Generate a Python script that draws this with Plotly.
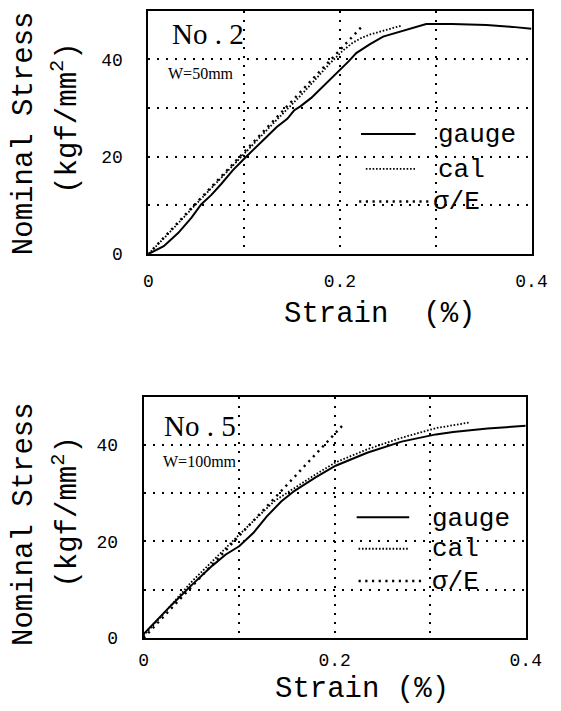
import plotly.graph_objects as go

# ---- No.2 specimen (W = 50 mm) ----
strain_gauge_2 = [0, 0.006, 0.016, 0.031, 0.045, 0.055, 0.066, 0.076, 0.088, 0.101, 0.112,
                  0.123, 0.134, 0.145, 0.152, 0.159, 0.17, 0.18, 0.19, 0.2, 0.209, 0.217,
                  0.224, 0.231, 0.245, 0.263, 0.28, 0.29, 0.317, 0.353, 0.38, 0.4]
stress_gauge_2 = [0, 0.6, 1.6, 4.3, 7.5, 10.2, 12.2, 14.4, 17.2, 19.8, 21.8,
                  24.0, 26.1, 27.8, 29.5, 30.4, 32.1, 34.0, 35.8, 37.7, 39.6, 41.3,
                  42.2, 43.1, 44.7, 45.8, 46.7, 47.3, 47.3, 47.1, 46.7, 46.3]
strain_cal_2 = [0, 0.02, 0.05, 0.08, 0.1, 0.13, 0.16, 0.19, 0.203, 0.213, 0.222, 0.231,
                0.245, 0.255, 0.265]
stress_cal_2 = [0, 4.0, 10.3, 16.5, 20.6, 26.8, 32.8, 39.3, 41.8, 43.4, 44.4, 45.1,
                45.9, 46.4, 47.0]
strain_se_2 = [0, 0.224]
stress_se_2 = [0, 47.0]

# ---- No.5 specimen (W = 100 mm) ----
strain_gauge_5 = [0, 0.011, 0.029, 0.05, 0.072, 0.086, 0.1, 0.115, 0.129, 0.144, 0.158,
                  0.18, 0.201, 0.234, 0.27, 0.306, 0.324, 0.36, 0.4]
stress_gauge_5 = [0.8, 3.1, 6.8, 10.9, 15.0, 17.3, 19.0, 21.8, 25.2, 28.3, 30.5,
                  33.3, 35.7, 38.4, 40.7, 42.2, 42.7, 43.4, 44.0]
strain_cal_5 = [0, 0.02, 0.05, 0.075, 0.1, 0.12, 0.137, 0.162, 0.18, 0.201, 0.234, 0.27,
                0.306, 0.342]
stress_cal_5 = [0.5, 4.8, 11.6, 16.6, 21.4, 25.2, 28.4, 31.6, 33.9, 36.4, 39.1, 41.5,
                43.5, 44.7]
strain_se_5 = [0, 0.208]
stress_se_5 = [0, 44.0]

x_tickvals = [0, 0.2, 0.4]
x_ticktext = ["0", "0.2", "0.4"]
x_gridvals = [0.1, 0.2, 0.3]
y_tickvals = [0, 20, 40]
y_ticktext = ["0", "20", "40"]
y_gridvals = [10, 20, 30, 40]

MONO = "Liberation Mono"
SERIF = "Liberation Serif"
W, H = 561, 711

SOLID = dict(color="black", width=2)
CAL = dict(color="black", width=1.8, dash="1.6px,1.8px")
SIGE = dict(color="black", width=2.4, dash="2.2px,4.5px")
GRID = dict(showgrid=True, gridcolor="black", griddash="2px,7px", gridwidth=1.5, ticks="")


def px(x):
    return x / W


def py(y):
    return 1 - y / H


fig = go.Figure()

panels = [
    ("x", "y", strain_gauge_2, stress_gauge_2, strain_cal_2, stress_cal_2, strain_se_2, stress_se_2),
    ("x2", "y2", strain_gauge_5, stress_gauge_5, strain_cal_5, stress_cal_5, strain_se_5, stress_se_5),
]
for xa, ya, sg, fg, sc, fc, ss, fs in panels:
    fig.add_trace(go.Scatter(x=ss, y=fs, mode="lines", line=SIGE, xaxis=xa, yaxis=ya,
                             showlegend=False, hoverinfo="skip"))
    fig.add_trace(go.Scatter(x=sc, y=fc, mode="lines", line=CAL, xaxis=xa, yaxis=ya,
                             showlegend=False, hoverinfo="skip"))
    fig.add_trace(go.Scatter(x=sg, y=fg, mode="lines", line=SOLID, xaxis=xa, yaxis=ya,
                             showlegend=False, hoverinfo="skip"))


def xaxis(domain, anchor, standoff):
    return dict(domain=domain, anchor=anchor, range=[0, 0.4], showline=True, mirror=True,
                linecolor="black", linewidth=2, showgrid=False, zeroline=False, ticks="",
                tickvals=x_tickvals, ticktext=x_ticktext, ticklabelstandoff=standoff,
                minor=dict(tickvals=x_gridvals, **GRID),
                tickfont=dict(family=MONO, size=18, color="black"))


def yaxis(domain, anchor):
    return dict(domain=domain, anchor=anchor, range=[0, 50], showline=True, mirror=True,
                linecolor="black", linewidth=2, showgrid=False, zeroline=False, ticks="",
                tickvals=y_tickvals, ticktext=y_ticktext, ticklabelstandoff=20,
                minor=dict(tickvals=y_gridvals, **GRID),
                tickfont=dict(family=MONO, size=18, color="black"))


fig.update_layout(
    width=W, height=H, margin=dict(l=0, r=0, t=0, b=0),
    paper_bgcolor="white", plot_bgcolor="white", showlegend=False,
    xaxis=xaxis([px(149), px(547)], "y", 9),
    yaxis=yaxis([py(258), py(11)], "x"),
    xaxis2=xaxis([px(144), px(541)], "y2", 4),
    yaxis2=yaxis([py(648), py(403)], "x2"),
)

annotations = []
shapes = []

# in-plot labels and hand-drawn legend for each panel
panel_text = [
    ("x", "y", "No . 2", "W=50mm", 0.023, 45.3, 0.018, 37.1,
     [(0.222, 0.279, 24.7, "gauge", 0.3, 24.4),
      (0.227, 0.279, 17.5, "cal", 0.3, 17.3),
      (0.22, 0.296, 10.8, "σ/E", 0.295, 10.6)]),
    ("x2", "y2", "No . 5", "W=100mm", 0.019, 44.0, 0.018, 36.5,
     [(0.223, 0.278, 25.0, "gauge", 0.3, 24.6),
      (0.225, 0.278, 18.5, "cal", 0.3, 18.5),
      (0.225, 0.295, 11.8, "σ/E", 0.3, 11.6)]),
]
styles = [SOLID, CAL, SIGE]
for xa, ya, title, width_txt, tx, ty, wx, wy, legend in panel_text:
    annotations.append(dict(x=tx, y=ty, xref=xa, yref=ya, text=title, showarrow=False,
                            xanchor="left", yanchor="middle",
                            font=dict(family=SERIF, size=29, color="black")))
    annotations.append(dict(x=wx, y=wy, xref=xa, yref=ya, text=width_txt, showarrow=False,
                            xanchor="left", yanchor="middle",
                            font=dict(family=SERIF, size=16, color="black")))
    for (x0, x1, ly, label, lx, lty), st in zip(legend, styles):
        shapes.append(dict(type="line", xref=xa, yref=ya, x0=x0, x1=x1, y0=ly, y1=ly,
                           line=st))
        annotations.append(dict(x=lx, y=lty, xref=xa, yref=ya, text=label, showarrow=False,
                                xanchor="left", yanchor="middle",
                                font=dict(family=MONO, size=26, color="black")))

# axis titles
for ycen_ns, ycen_kgf, ytitle, xtitle, xcen in [
    (135, 120, 319, "Strain  (%)", 389),
    (532, 520, 700, "Strain (%)", 371),
]:
    annotations.append(dict(x=px(21), y=py(ycen_ns), xref="paper", yref="paper",
                            text="Nominal Stress", textangle=-90, showarrow=False,
                            xanchor="center", yanchor="middle",
                            font=dict(family=MONO, size=29, color="black")))
    annotations.append(dict(x=px(63), y=py(ycen_kgf), xref="paper", yref="paper",
                            text="(kgf/mm<sup>2</sup>)", textangle=-90, showarrow=False,
                            xanchor="center", yanchor="middle",
                            font=dict(family=MONO, size=29, color="black")))
    annotations.append(dict(x=px(xcen), y=py(ytitle), xref="paper", yref="paper",
                            text=xtitle, showarrow=False, xanchor="center", yanchor="middle",
                            font=dict(family=MONO, size=29, color="black")))

fig.update_layout(annotations=annotations, shapes=shapes)

fig.write_html("out.html")
